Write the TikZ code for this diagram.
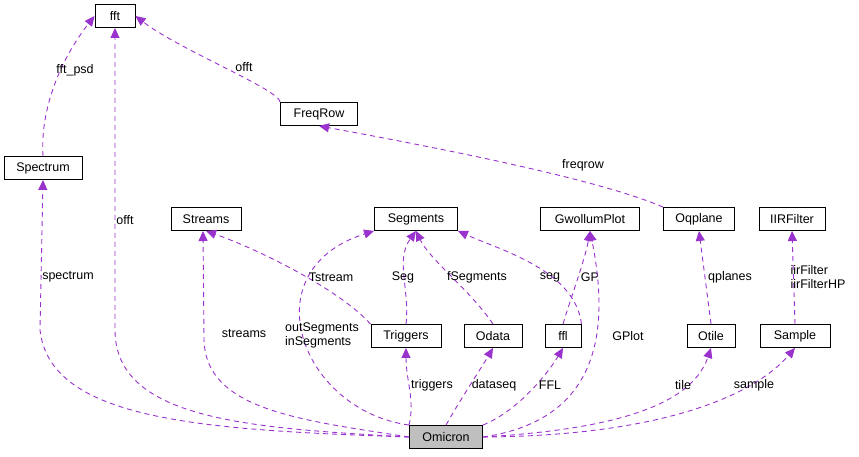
\documentclass[tikz,border=0pt]{standalone}
\usepackage{fontspec}
\setmainfont{Liberation Sans}
\usetikzlibrary{arrows.meta}
\definecolor{pur}{RGB}{154,50,205}
\begin{document}
\begin{tikzpicture}[x=1pt,y=-1pt,
  cls/.style={draw=black,line width=0.9pt,fill=white,inner sep=0pt,minimum height=23pt,font=\fontsize{12.5}{14}\selectfont},
  dep/.style={draw=pur,line width=0.9pt,dash pattern=on 5pt off 4pt,-{Triangle[length=10pt,width=9pt,fill=pur]}},
  lab/.style={font=\fontsize{12.5}{14}\selectfont,inner sep=1pt,align=left}]
\useasboundingbox (0,0) rectangle (859,456);
\node[cls,minimum width=40pt] (fft) at (115,16) {fft};
\node[cls,minimum width=78pt] (spec) at (43,168) {Spectrum};
\node[cls,minimum width=77pt] (freq) at (319,114) {FreqRow};
\node[cls,minimum width=70pt] (streams) at (206,219) {Streams};
\node[cls,minimum width=83pt] (seg) at (416,219) {Segments};
\node[cls,minimum width=99pt] (gp) at (590,219) {GwollumPlot};
\node[cls,minimum width=71pt] (oq) at (699,219) {Oqplane};
\node[cls,minimum width=66pt] (iir) at (792,219) {IIRFilter};
\node[cls,minimum width=70pt] (trig) at (406,336) {Triggers};
\node[cls,minimum width=58pt] (odata) at (493,336) {Odata};
\node[cls,minimum width=36pt] (ffl) at (563,336) {ffl};
\node[cls,minimum width=48pt] (otile) at (711,336) {Otile};
\node[cls,minimum width=70pt] (sample) at (795,336) {Sample};
\node[cls,minimum width=73pt,fill={rgb,255:red,191;green,191;blue,191}] (om) at (446,437) {Omicron};

\draw[dep] (spec.north) .. controls (40,110) and (60,60) .. (fft.west);
\node[lab] at (75,70) {fft\_psd};
\draw[dep] (freq.north west) .. controls (280,90) and (180,50) .. (fft.east);
\node[lab] at (244,67) {offt};
\draw[dep] (oq.north west) .. controls (600,180) and (450,150) .. (freq.south);
\node[lab] at (583,165) {freqrow};

\draw[dep] (om.west) .. controls (200,430) and (50,420) .. (40,330) -- (spec.south);
\node[lab] at (68,277) {spectrum};
\draw[dep] (om.west) .. controls (250,428) and (115,420) .. (115,330) -- (fft.south);
\node[lab] at (125,220) {offt};
\draw[dep] (om.west) .. controls (300,420) and (206,410) .. (204,340) -- (203,231);
\node[lab] at (244,334) {streams};
\draw[dep] (om.north west) .. controls (300,410) and (250,270) .. (seg.south west);
\node[lab] at (322,335) {outSegments\\inSegments};
\draw[dep] (trig.north west) .. controls (340,290) and (260,250) .. (streams.south);
\node[lab] at (331,277) {Tstream};
\draw[dep] (trig.north) .. controls (410,290) and (395,260) .. (seg.south);
\node[lab] at (403,277) {Seg};
\draw[dep] (odata.north) .. controls (470,290) and (430,260) .. (seg.south);
\node[lab] at (477,277) {fSegments};
\draw[dep] (ffl.north east) .. controls (575,270) and (500,250) .. (seg.south east);
\node[lab] at (550,277) {seg};
\draw[dep] (ffl.north) .. controls (570,300) and (585,260) .. (gp.south);
\node[lab] at (590,277) {GP};
\draw[dep] (om.east) .. controls (600,420) and (610,330) .. (gp.south);
\node[lab] at (628,336) {GPlot};
\draw[dep] (otile.north) -- (oq.south);
\node[lab] at (730,277) {qplanes};
\draw[dep] (sample.north) -- (iir.south);
\node[lab] at (818,277) {iirFilter\\iirFilterHP};
\draw[dep] (om.north west) .. controls (415,400) and (406,380) .. (trig.south);
\node[lab] at (432,385) {triggers};
\draw[dep] (om.north) .. controls (460,400) and (480,370) .. (odata.south);
\node[lab] at (494,385) {dataseq};
\draw[dep] (om.north east) .. controls (520,410) and (550,370) .. (ffl.south);
\node[lab] at (550,385) {FFL};
\draw[dep] (om.east) .. controls (600,430) and (690,410) .. (otile.south);
\node[lab] at (683,385) {tile};
\draw[dep] (om.east) .. controls (650,436) and (750,400) .. (sample.south);
\node[lab] at (754,385) {sample};
\end{tikzpicture}
\end{document}
